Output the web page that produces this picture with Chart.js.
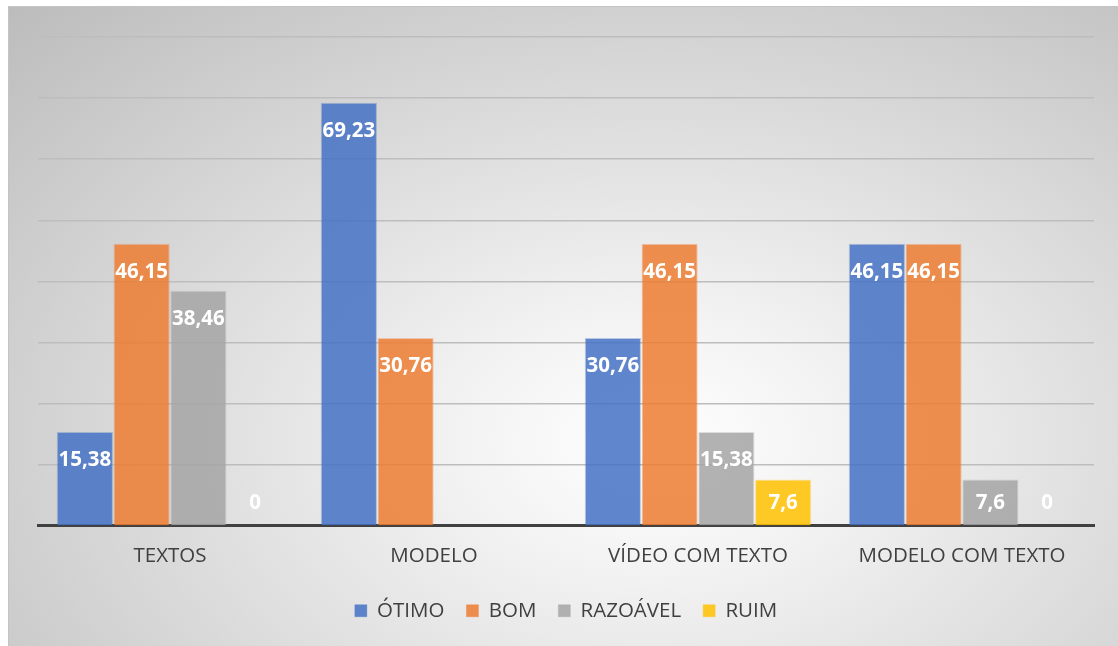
<!DOCTYPE html>
<html>
<head>
<meta charset="utf-8">
<script src="https://cdn.jsdelivr.net/npm/chart.js@4"></script>
<style>
  body { margin: 0; background: #fff; }
  #wrap {
    position: absolute; left: 8px; top: 6px; width: 1110px; height: 640px;
    border-left: 1px solid #c4c4c4; border-top: 1px solid #c4c4c4;
    box-sizing: border-box;
    background: radial-gradient(ellipse farthest-corner at 58% 68%, #ffffff 0%, #f2f2f2 22%, #bcbcbc 100%);
  }
</style>
</head>
<body>
<div id="wrap"><canvas id="chart"></canvas></div>
<script>
// Data
const categories = ["TEXTOS", "MODELO", "VÍDEO COM TEXTO", "MODELO COM TEXTO"];
const otimo = [15.38, 69.23, 30.76, 46.15];
const bom = [46.15, 30.76, 46.15, 46.15];
const razoavel = [38.46, null, 15.38, 7.6];
const ruim = [0, null, 7.6, 0];

/* =========================
   VALUE LABELS (inside end)
========================= */
const valueLabels = {
  id: "valueLabels",
  afterDatasetsDraw(chart) {
    const ctx = chart.ctx;
    const base = chart.scales.y.getPixelForValue(0);
    ctx.save();
    ctx.font = "bold 20.5px 'Open Sans'";
    ctx.fillStyle = "#ffffff";
    ctx.textAlign = "center";
    ctx.textBaseline = "middle";
    chart.data.datasets.forEach((ds, i) => {
      chart.getDatasetMeta(i).data.forEach((bar, j) => {
        const v = ds.data[j];
        if (v === null) return;
        const y = Math.min(bar.y + 28, base - 23);
        ctx.fillText(String(v).replace(".", ","), bar.x, y);
      });
    });
    ctx.restore();
  }
};

function ds(label, data, color) {
  return {
    label,
    data,
    backgroundColor: color.replace("A", "0.85"),
    borderColor: color.replace("A", "0.35"),
    borderWidth: 1
  };
}

new Chart(document.getElementById("chart"), {
  type: "bar",
  data: {
    labels: categories,
    datasets: [
      ds("ÓTIMO", otimo, "rgba(68,114,196,A)"),
      ds("BOM", bom, "rgba(237,125,49,A)"),
      ds("RAZOÁVEL", razoavel, "rgba(165,165,165,A)"),
      ds("RUIM", ruim, "rgba(255,192,0,A)")
    ]
  },
  options: {
    responsive: true,
    maintainAspectRatio: false,
    animation: false,
    categoryPercentage: 0.86,
    barPercentage: 0.99,
    layout: { padding: { left: 29, right: 24, top: 30, bottom: 15 } },
    scales: {
      x: {
        grid: { display: false },
        border: { color: "#404040", width: 3 },
        ticks: { color: "#404040", font: { family: "'Open Sans'", size: 20.5 }, padding: 10 }
      },
      y: {
        min: 0,
        max: 80,
        ticks: { display: false, stepSize: 10 },
        border: { display: false },
        grid: { color: "#bdbdbd", lineWidth: 1.5, drawTicks: false }
      }
    },
    plugins: {
      legend: {
        position: "bottom",
        labels: {
          color: "#404040",
          font: { family: "'Open Sans'", size: 20.5 },
          boxWidth: 12,
          boxHeight: 12,
          padding: 22
        }
      },
      tooltip: { enabled: false }
    }
  },
  plugins: [valueLabels]
});
</script>
</body>
</html>
